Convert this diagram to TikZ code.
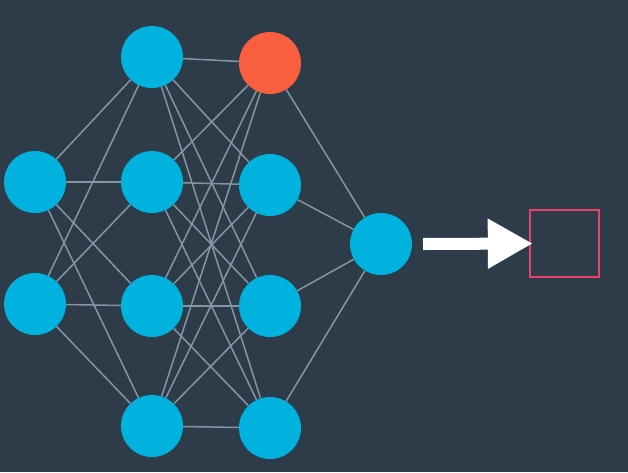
\documentclass[tikz,border=0pt]{standalone}
\usetikzlibrary{arrows.meta,backgrounds}
\definecolor{bg}{HTML}{2E3B48}
\definecolor{neuron}{HTML}{00B2DD}
\definecolor{hot}{HTML}{F95F3F}
\definecolor{wire}{HTML}{8496A5}
\definecolor{frame}{HTML}{E8416E}
\begin{document}
\begin{tikzpicture}[x=1pt,y=-1pt,
  unit/.style={circle,fill=neuron,minimum size=62pt,inner sep=0pt},
  hotunit/.style={unit,fill=hot},
  wirestyle/.style={draw=wire,line width=1.5pt},
  outbox/.style={draw=frame,line width=2.4pt,minimum width=69pt,minimum height=67pt,inner sep=0pt}]
  \useasboundingbox (0,0) rectangle (628,472);
  % input layer
  \node[unit] (a1) at (35,182) {};
  \node[unit] (a2) at (35,304) {};
  % first hidden layer
  \node[unit] (b1) at (152,57) {};
  \node[unit] (b2) at (152,182) {};
  \node[unit] (b3) at (152,306) {};
  \node[unit] (b4) at (152,426) {};
  % second hidden layer
  \node[hotunit] (c1) at (270,63) {};
  \node[unit] (c2) at (270,185) {};
  \node[unit] (c3) at (270,306) {};
  \node[unit] (c4) at (270,428) {};
  % output unit
  \node[unit] (d) at (381,244) {};
  % result box
  \node[outbox] (res) at (564.5,243.5) {};
  % connections, kept behind the units
  \begin{scope}[on background layer]
    \fill[bg] (0,0) rectangle (628,472);
    \foreach \i in {1,2}
      \foreach \j in {1,2,3,4}
        \draw[wirestyle] (a\i) -- (b\j);
    \foreach \i in {1,2,3,4}
      \foreach \j in {1,2,3,4}
        \draw[wirestyle] (b\i) -- (c\j);
    \foreach \j in {1,2,3,4}
      \draw[wirestyle] (c\j) -- (d);
  \end{scope}
  % output arrow
  \coordinate (tail) at (423,244);
  \draw[white,line width=12pt,-{Triangle[length=45pt,width=47pt]}] (tail) -- ([xshift=4pt]res.west);
\end{tikzpicture}
\end{document}
